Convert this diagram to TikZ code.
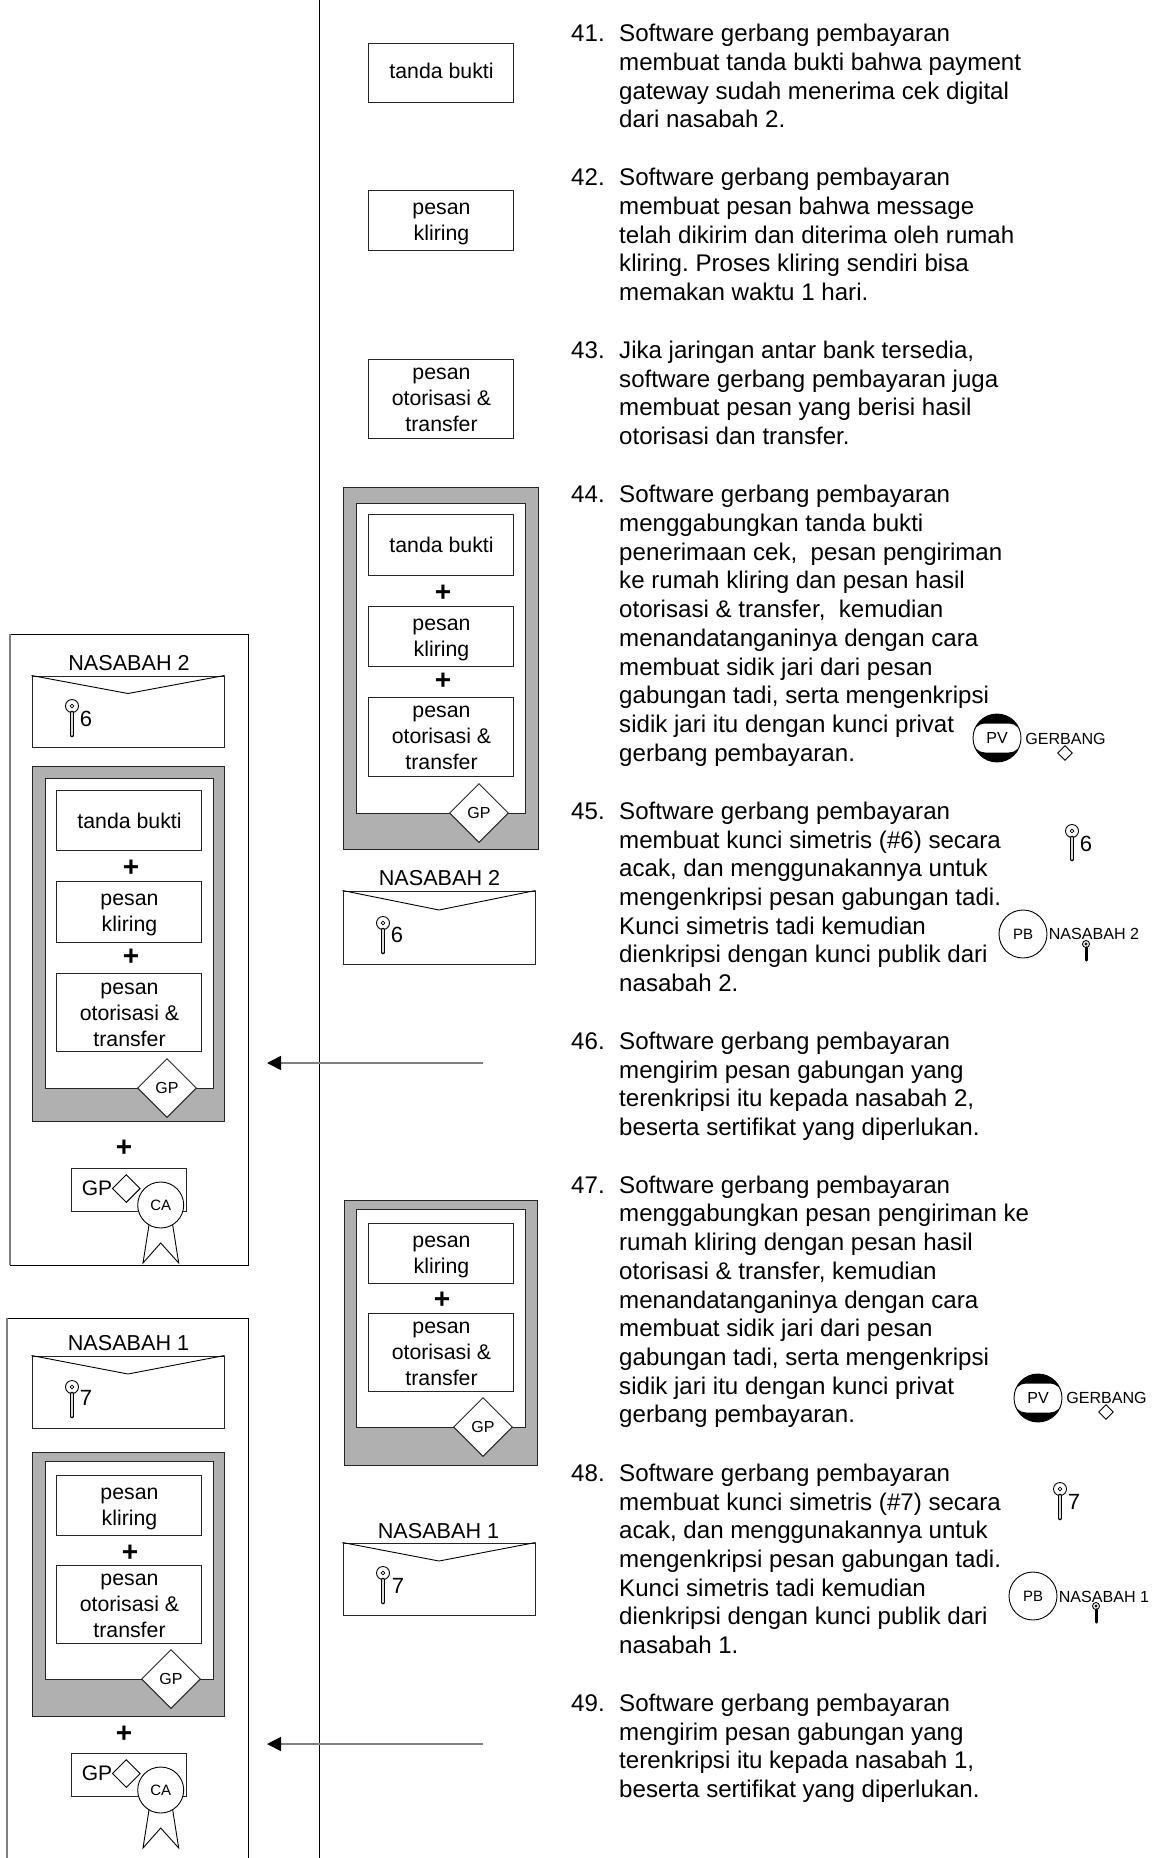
\documentclass[tikz,border=0pt]{standalone}
\usepackage{fontspec}
\setmainfont{Liberation Sans}
\usetikzlibrary{shapes.geometric,arrows.meta}
\tikzset{
  ln/.style={line width=1pt,draw=black!85},
  msgbox/.style={ln,fill=white,inner sep=0pt,font=\fontsize{21.3}{26}\selectfont},
  outer/.style={ln,fill=black!31,inner sep=0pt},
  innerbox/.style={ln,fill=white,inner sep=0pt},
  sign/.style={ln,aspect=1,diamond,fill=white,inner sep=0pt,minimum width=59pt,minimum height=59pt,font=\fontsize{16}{18}\selectfont},
  smalldia/.style={line width=0.9pt,draw=black,aspect=1,diamond,fill=white,inner sep=0pt},
  plussign/.style={inner sep=0pt,font=\fontsize{28}{30}\selectfont\bfseries},
  caption/.style={inner sep=0pt,font=\fontsize{21.6}{25}\selectfont},
  tiny/.style={inner sep=0pt,font=\fontsize{16.1}{18}\selectfont},
  numtext/.style={inner sep=0pt,anchor=base west,font=\fontsize{24.1}{28.72}\selectfont},
  keynum/.style={inner sep=0pt,font=\fontsize{22}{25}\selectfont},
  frameline/.style={line width=1pt,draw=black},
  sideline/.style={line width=1.5pt,draw=black!50},
  arrowline/.style={line width=1.5pt,draw=black!50,-{Triangle[length=14pt,width=14pt,fill=black,color=black]}},
}
\newcommand{\bx}[7][msgbox]{\node[#1,minimum width={(#5-#3)*1pt},minimum height={(#6-#4)*1pt}] (#2) at ({(#3+#5)/2},{(#4+#6)/2}) {#7};}
\newcommand{\bt}[2]{\hspace*{2pt}\raisebox{-#1pt}[0pt][0pt]{\begin{tabular}{@{}c@{}}#2\end{tabular}}}
% envelope: name x0 y0 x1 y1 apexy
\newcommand{\envelope}[6]{\node[ln,fill=white,inner sep=0pt,minimum width={(#4-#2)*1pt},minimum height={(#5-#3)*1pt}] (#1) at ({(#2+#4)/2},{(#3+#5)/2}) {};
  \coordinate (#1apex) at ({(#2+#4)/2},#6);
  \draw[line width=0.9pt,draw=black] (#1.north west) -- (#1apex) -- (#1.north east);}
% key: [stem colour] name x y stemend headradius
\newcommand{\keyicon}[6][black!15]{\node[circle,line width=0.9pt,draw=black,fill=white,inner sep=0pt,minimum size={2*#6*1pt}] (#2) at (#3,#4) {};
  \coordinate (#2end) at (#3,#5);
  \draw[line width={max(0.7*#6,3)*1pt},black,line cap=round] (#2.south) -- (#2end);
  \draw[line width={0.3*#6*1pt},#1,line cap=round] (#2.south) -- (#2end);
  \node[circle,line width=0.7pt,draw=black,fill=white,inner sep=0pt,minimum size={0.6*#6*1pt}] (#2hole) at (#2) {};}
% certificate: prefix top
\newcommand{\certificate}[2]{
  \node[ln,fill=white,inner sep=0pt,minimum width=115pt,minimum height=43pt] (#1box) at (128.5,{#2+21.5}) {};
  \node[inner sep=0pt,anchor=center,font=\fontsize{21}{25}\selectfont] (#1gp) at (97,{#2+20}) {GP};
  \node[smalldia,minimum width=28pt,minimum height=28pt] (#1dia) at (126.3,{#2+20.5}) {};
  \coordinate (#1rc) at (160.7,{#2+37});
  \draw[line width=0.9pt,draw=black] ([shift={(-11.7,20)}]#1rc) -- ([shift={(-17.7,58)}]#1rc) -- ([shift={(0,38)}]#1rc) -- ([shift={(18,58)}]#1rc) -- ([shift={(12,20)}]#1rc);
  \node[circle,line width=0.9pt,draw=black,fill=white,inner sep=0pt,minimum size=46pt,font=\fontsize{15}{17}\selectfont] (#1ca) at (#1rc) {CA};}
\newcommand{\pvicon}[2]{\node[circle,line width=0.9pt,draw=black,fill=black,inner sep=0pt,minimum size=48pt,font=\fontsize{16}{18}\selectfont,
   path picture={\fill[white,rounded corners=13pt] ([shift={(-24.5,-14.5)}]path picture bounding box.center) rectangle ([shift={(24.5,14.5)}]path picture bounding box.center);}] (#1) at #2 {PV};}
\newcommand{\pbicon}[2]{\node[circle,line width=0.9pt,draw=black,fill=white,inner sep=0pt,minimum size=48pt,font=\fontsize{15}{17}\selectfont] (#1) at #2 {PB};}
\newcommand{\lines}[1]{\frenchspacing\begin{tabular}[t]{@{}l@{}}#1\end{tabular}}
\newcommand{\para}[3]{\node[numtext] (n#1) at (571,{#2+0.8}) {#1.}; \node[numtext] (t#1) at (619,{#2+0.8}) {\lines{#3}};}
\begin{document}
\begin{tikzpicture}[x=1pt,y=-1pt]
\useasboundingbox (0,0) rectangle (1156,1858);
\fill[white] (0,0) rectangle (1156,1858);

% central line
\coordinate (vtop) at (319,0);
\coordinate (vbot) at (319,1858);
\draw[line width=1pt,black] (vtop) -- (vbot);

% first left frame
\coordinate (f1a) at (10,634); \coordinate (f1b) at (248,634); \coordinate (f1c) at (248,1265); \coordinate (f1d) at (10,1265);
\draw[frameline] (f1a) -- (f1b) -- (f1c) -- (f1d);
\draw[sideline] (f1a) -- (f1d);
\node[caption] (l1cap) at (129,663) {NASABAH 2};
\envelope{l1env}{32}{676}{224}{747.5}{693.5}
\keyicon{l1key}{72}{706}{735}{6.5}
\node[keynum] (l1num) at (86,719) {6};
\bx[outer]{l1g}{32}{766}{224}{1121.5}{}
\bx[innerbox]{l1i}{45}{778.5}{213}{1088}{}
\bx{l1a}{56}{790.5}{201}{850.5}{\bt{8}{tanda bukti}}
\node[plussign] (l1p1) at (131,868) {+};
\bx{l1b}{56}{881}{201}{942}{\bt{7}{pesan\\kliring}}
\node[plussign] (l1p2) at (131,957.5) {+};
\bx{l1c}{56}{973.5}{201}{1051}{\bt{8}{pesan\\otorisasi \&\\transfer}}
\node[sign] (l1s) at (167,1088) {GP};
\node[plussign] (l1p3) at (124,1148) {+};
\certificate{l1}{1168}

% second left frame
\coordinate (f2a) at (7,1318); \coordinate (f2b) at (248,1318); \coordinate (f2c) at (248,1858); \coordinate (f2d) at (7,1858);
\draw[frameline] (f2a) -- (f2b) -- (f2c);
\draw[sideline] (f2a) -- (f2d);
\node[caption] (l2cap) at (128.5,1343) {NASABAH 1};
\envelope{l2env}{32}{1356}{224}{1428}{1374}
\keyicon{l2key}{72}{1387}{1416}{6.5}
\node[keynum] (l2num) at (86,1398) {7};
\bx[outer]{l2g}{32}{1452}{224}{1716}{}
\bx[innerbox]{l2i}{45}{1461}{213}{1679}{}
\bx{l2b}{56}{1475}{201}{1535}{\bt{7}{pesan\\kliring}}
\node[plussign] (l2p1) at (130,1553) {+};
\bx{l2c}{56}{1565}{201}{1643}{\bt{7}{pesan\\otorisasi \&\\transfer}}
\node[sign] (l2s) at (171,1679) {GP};
\node[plussign] (l2p3) at (124,1734) {+};
\certificate{l2}{1753}

% arrows
\coordinate (a1s) at (483,1063); \coordinate (a1e) at (267,1063);
\draw[arrowline] (a1s) -- (a1e);
\coordinate (a2s) at (483,1744); \coordinate (a2e) at (267,1744);
\draw[arrowline] (a2s) -- (a2e);

% middle column
\bx{m1}{368}{43}{513}{102}{\bt{5.5}{tanda bukti}}
\bx{m2}{368}{190}{513}{250}{\bt{7}{pesan\\kliring}}
\bx{m3}{368}{359}{513}{438}{\bt{7}{pesan\\otorisasi \&\\transfer}}

\bx[outer]{m4g}{343}{487}{538}{849}{}
\bx[innerbox]{m4i}{356}{503}{525}{813}{}
\bx{m4a}{368}{514}{513}{575}{\bt{8}{tanda bukti}}
\node[plussign] (m4p1) at (443,593.5) {+};
\bx{m4b}{368}{606}{513}{666}{\bt{7}{pesan\\kliring}}
\node[plussign] (m4p2) at (443,681.5) {+};
\bx{m4c}{368}{697}{513}{776}{\bt{7}{pesan\\otorisasi \&\\transfer}}
\node[sign] (m4s) at (479,813) {GP};
\node[caption] (m5cap) at (439.5,878) {NASABAH 2};
\envelope{m5env}{343}{891}{535}{964}{910}
\keyicon{m5key}{383}{923}{952}{6.5}
\node[keynum] (m5num) at (397,935) {6};

\bx[outer]{m6g}{344}{1200}{537}{1465}{}
\bx[innerbox]{m6i}{356}{1209}{525}{1427}{}
\bx{m6b}{368}{1223}{513}{1283}{\bt{7}{pesan\\kliring}}
\node[plussign] (m6p1) at (442,1300) {+};
\bx{m6c}{368}{1313}{513}{1391}{\bt{7}{pesan\\otorisasi \&\\transfer}}
\node[sign] (m6s) at (483,1427) {GP};
\node[caption] (m7cap) at (438.5,1531) {NASABAH 1};
\envelope{m7env}{343}{1543}{535}{1615}{1561}
\keyicon{m7key}{383}{1573}{1602}{6.5}
\node[keynum] (m7num) at (398,1586) {7};

% text
\para{41}{41}{Software gerbang pembayaran\\membuat tanda bukti bahwa payment\\gateway sudah menerima cek digital\\dari nasabah 2.}
\para{42}{185}{Software gerbang pembayaran\\membuat pesan bahwa message\\telah dikirim dan diterima oleh rumah\\kliring. Proses kliring sendiri bisa\\memakan waktu 1 hari.}
\para{43}{357.5}{Jika jaringan antar bank tersedia,\\software gerbang pembayaran juga\\membuat pesan yang berisi hasil\\otorisasi dan transfer.}
\para{44}{502}{Software gerbang pembayaran\\menggabungkan tanda bukti\\penerimaan cek,~ pesan pengiriman\\ke rumah kliring dan pesan hasil\\otorisasi \& transfer,~ kemudian\\menandatanganinya dengan cara\\membuat sidik jari dari pesan\\gabungan tadi, serta mengenkripsi\\sidik jari itu dengan kunci privat\\gerbang pembayaran.}
\para{45}{818.5}{Software gerbang pembayaran\\membuat kunci simetris (\#6) secara\\acak, dan menggunakannya untuk\\mengenkripsi pesan gabungan tadi.\\Kunci simetris tadi kemudian\\dienkripsi dengan kunci publik dari\\nasabah 2.}
\para{46}{1048.5}{Software gerbang pembayaran\\mengirim pesan gabungan yang\\terenkripsi itu kepada nasabah 2,\\beserta sertifikat yang diperlukan.}
\para{47}{1192.4}{Software gerbang pembayaran\\menggabungkan pesan pengiriman ke\\rumah kliring dengan pesan hasil\\otorisasi \& transfer, kemudian\\menandatanganinya dengan cara\\membuat sidik jari dari pesan\\gabungan tadi, serta mengenkripsi\\sidik jari itu dengan kunci privat\\gerbang pembayaran.}
\para{48}{1480.5}{Software gerbang pembayaran\\membuat kunci simetris (\#7) secara\\acak, dan menggunakannya untuk\\mengenkripsi pesan gabungan tadi.\\Kunci simetris tadi kemudian\\dienkripsi dengan kunci publik dari\\nasabah 1.}
\para{49}{1710.5}{Software gerbang pembayaran\\mengirim pesan gabungan yang\\terenkripsi itu kepada nasabah 1,\\beserta sertifikat yang diperlukan.}

% right icons
\pvicon{pv1}{(997,738)}
\node[tiny] (g1) at (1065.5,739) {GERBANG};
\node[smalldia,minimum width=15pt,minimum height=15pt] (g1d) at (1065,753) {};
\keyicon{rk6}{1072}{831}{859}{6.5}
\node[keynum] (rk6n) at (1086,844) {6};
\pbicon{pb1}{(1023,934)}
\node[tiny] (n2l) at (1094,934) {NASABAH 2};
\keyicon[black]{rk2}{1086}{944}{960}{3.5}

\pvicon{pv2}{(1038,1398)}
\node[tiny] (g2) at (1106.5,1398) {GERBANG};
\node[smalldia,minimum width=15pt,minimum height=15pt] (g2d) at (1106,1412) {};
\keyicon{rk7}{1060}{1489}{1518}{6.5}
\node[keynum] (rk7n) at (1074,1502) {7};
\pbicon{pb2}{(1033,1596)}
\node[tiny] (n1l) at (1104,1597) {NASABAH 1};
\keyicon[black]{rk1}{1096}{1606}{1622}{3.5}
\end{tikzpicture}
\end{document}
